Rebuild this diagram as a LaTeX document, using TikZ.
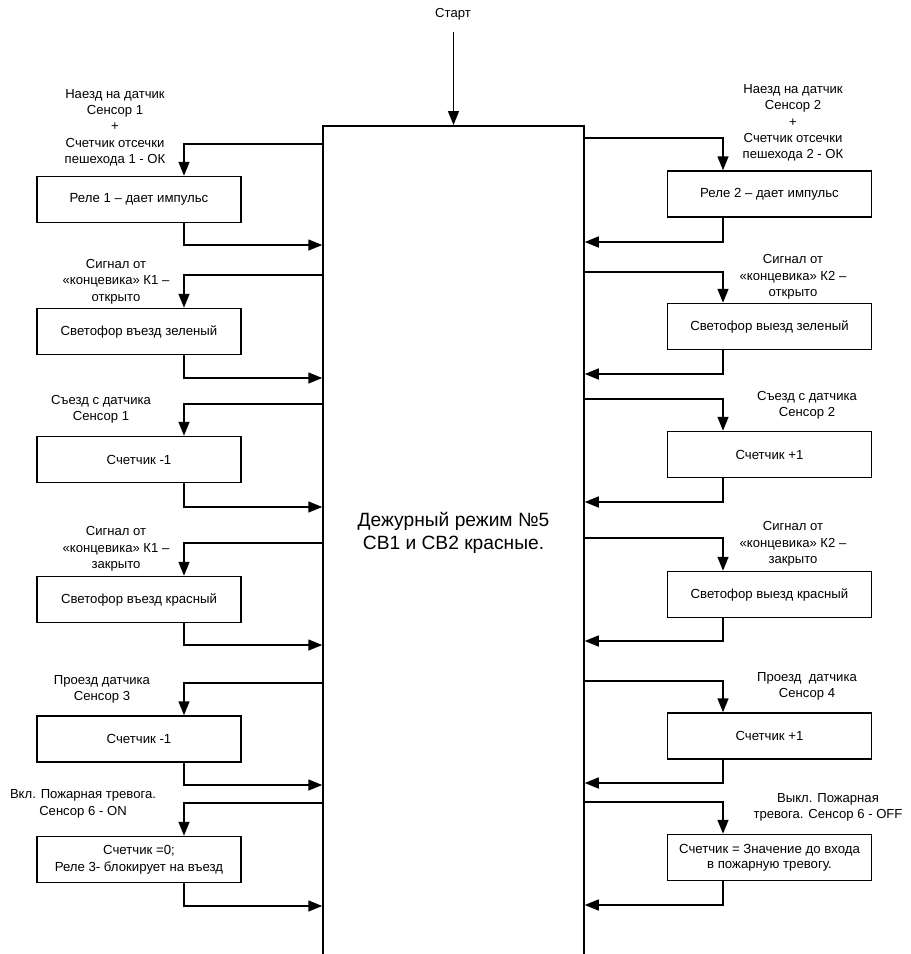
\documentclass[tikz,border=0pt]{standalone}
\usepackage{fontspec}
\setmainfont{Liberation Sans}
\usetikzlibrary{arrows.meta}
\begin{document}
\begin{tikzpicture}[x=1pt,y=-1pt,
  line width=1.5pt,
  arr/.style={-{Triangle[length=14pt,width=11pt]}},
  lbox/.style={draw, minimum width=204pt, minimum height=46pt, inner sep=2pt, align=center, font=\fontsize{13.2}{16.5}\selectfont},
  lbl/.style={align=center, inner sep=0pt, font=\fontsize{13.1}{16.3}\selectfont}]
\useasboundingbox (0,0) rectangle (911,954);
% main box
\node[draw, minimum width=261pt, minimum height=900pt, anchor=north, inner sep=0pt] (main) at (453.5,125) {};
\node[align=center, font=\fontsize{19.2}{23}\selectfont] (maintext) at (453.5,533) {Дежурный режим №5\\СВ1 и СВ2 красные.};
% start
\node[lbl] (start) at (453,14) {Старт};
\draw[arr] ([yshift=-11pt]start.south -| main.north) -- (main.north);
% left boxes
\node[lbox] (l1) at (139,199.5) {Реле 1 – дает импульс};
\node[lbox] (l2) at (139,331.5) {Светофор въезд зеленый};
\node[lbox] (l3) at (139,459.5) {Счетчик -1};
\node[lbox] (l4) at (139,599.5) {Светофор въезд красный};
\node[lbox] (l5) at (139,739) {Счетчик -1};
\node[lbox] (l6) at (139,859.5) {Счетчик =0;\\Реле 3- блокирует на въезд};
% right boxes
\node[lbox] (r1) at (769.5,194) {Реле 2 – дает импульс};
\node[lbox] (r2) at (769.5,326.5) {Светофор выезд зеленый};
\node[lbox] (r3) at (769.5,454.5) {Счетчик +1};
\node[lbox] (r4) at (769.5,594.5) {Светофор выезд красный};
\node[lbox] (r5) at (769.5,736) {Счетчик +1};
\node[lbox, font=\fontsize{13.2}{14.8}\selectfont] (r6) at (769.5,857.5) {Счетчик = Значение до входа\\в пожарную тревогу.};
% labels
\node[lbl] (t1) at (115,127.5) {Наезд на датчик\\Сенсор 1\\+\\Счетчик отсечки\\пешехода 1 - ОК};
\node[lbl] (t2) at (116,281.5) {Сигнал от\\«концевика» К1 –\\открыто};
\node[lbl] (t3) at (101,409.5) {Съезд с датчика\\Сенсор 1};
\node[lbl] (t4) at (116,549) {Сигнал от\\«концевика» К1 –\\закрыто};
\node[lbl] (t5) at (102,689.5) {Проезд датчика\\Сенсор 3};
\node[lbl, font=\fontsize{13.1}{17.5}\selectfont] (t6) at (83,804) {Вкл. Пожарная тревога.\\Сенсор 6 - ON};
\node[lbl] (s1) at (793,123) {Наезд на датчик\\Сенсор 2\\+\\Счетчик отсечки\\пешехода 2 - ОК};
\node[lbl] (s2) at (793,277) {Сигнал от\\«концевика» К2 –\\открыто};
\node[lbl] (s3) at (807,405) {Съезд с датчика\\Сенсор 2};
\node[lbl] (s4) at (793,544) {Сигнал от\\«концевика» К2 –\\закрыто};
\node[lbl] (s5) at (807,686.5) {Проезд\ \ датчика\\Сенсор 4};
\node[lbl] (s6) at (828,807) {Выкл. Пожарная\\тревога. Сенсор 6 - OFF};
% left connectors
\foreach \b/\yin/\yout in {l1/144/245, l2/275/378, l3/404/507, l4/543/645, l5/683/785, l6/803/906}{
  \draw[arr] (main.west |- 0,\yin) -| ([xshift=45pt]\b.north);
  \draw[arr] ([xshift=45pt]\b.south) |- (main.west |- 0,\yout);
}
% right connectors
\foreach \b/\yin/\yout in {r1/138/242, r2/272/374, r3/399/502, r4/538/641, r5/681/783, r6/802/905}{
  \draw[arr] (main.east |- 0,\yin) -| ([xshift=-46.5pt]\b.north);
  \draw[arr] ([xshift=-46.5pt]\b.south) |- (main.east |- 0,\yout);
}
\end{tikzpicture}
\end{document}
